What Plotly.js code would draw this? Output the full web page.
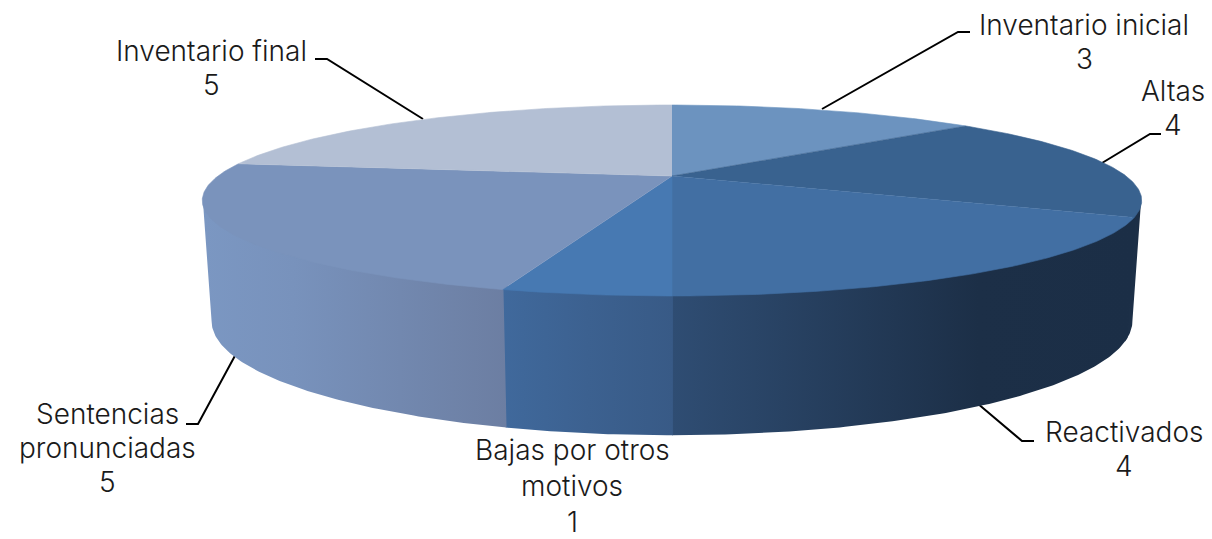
<!DOCTYPE html>
<html>
<head>
<meta charset="utf-8">
<script src="https://cdn.plot.ly/plotly-3.0.1.min.js"></script>
<style>html,body{margin:0;padding:0;background:#fff}#chart{width:1212px;height:539px}</style>
</head>
<body>
<div id="chart"></div>
<script>
const categories = ['Inventario inicial','Altas','Reactivados','Bajas por otros<br>motivos','Sentencias<br>pronunciadas','Inventario final'];
const values = [3,4,4,1,5,5];
const topColors = ['#6C93BF','#39628F','#426FA3','#4779B2','#7A93BC','#B3BFD4'];
const sideLeftColors = ['#6C93BF','#1C2F47','#2F4D73','#40699C','#7B97C2','#B3BFD4'];
const sideMidColors = ['#6C93BF','#1C2F47','#1C2F47','#3C6190','#7892BC','#B3BFD4'];
const sideMidStops = [0.5,0.5,0.66,0.5,0.3,0.5];
const sideRightColors = ['#6C93BF','#1C2E45','#1B2E46','#385A86','#6C7EA2','#B3BFD4'];
const labelX = [1084,1173,1124,572,107,211];
const labelY = [25,91,432,450,414,51];
const lineSteps = [34,34,34,36,34,34];
const leaders = [
  'M822,109 L958,32 L970,32',
  'M1102,163 L1150,134 L1161,134',
  'M977,403 L1022,441 L1034,441',
  null,
  'M237,352 L198,424 L186,424',
  'M423,119 L327,59 L315,59'
];

/* perspective projection of the disc */
const persp = 0.2565, silhouette = Math.acos(-persp);
const topDisc = {cx:672, cy:176, a:454, b:89.2};
const wallTop = {cx:672, cy:176, a:453.5, b:86};
const botDisc = {cx:672, cy:292, a:445, b:106.5};
function proj(d, t){
  const u = Math.sin(t), v = Math.cos(t), k = 1 + persp*v;
  return [d.cx + d.a*u/k, d.cy - d.b*v/k];
}
function arc(d, t0, t1){
  const n = Math.max(2, Math.ceil(Math.abs(t1-t0)/0.01)), pts = [];
  for(let i=0;i<=n;i++) pts.push(proj(d, t0+(t1-t0)*i/n));
  return pts;
}
const total = values.reduce((s,v)=>s+v,0);
const traces = [];
function addPoly(pts, style){
  traces.push(Object.assign({
    type:'scatter', mode:'lines', x:pts.map(p=>p[0]), y:pts.map(p=>p[1]),
    fill:'toself', line:{width:0}, hoverinfo:'skip', showlegend:false
  }, style));
}
const TAU = 2*Math.PI;
let run = 0;
const spans = values.map(v=>{const s=[run/total*TAU,(run+v)/total*TAU];run+=v;return s;});
/* side walls: only the front half of the rim, between the two silhouette angles */
const visibleFrom = silhouette, visibleTo = TAU - silhouette;
spans.forEach((s,i)=>{
  const a = Math.max(s[0],visibleFrom), b = Math.min(s[1],visibleTo);
  if(b<=a) return;
  const overlap = Math.abs(Math.cos(a)) < 0.5 ? 0.03 : 0.0015;
  const a2 = Math.max(a-overlap,visibleFrom);
  const pts = arc(wallTop,a2,b).concat(arc(botDisc,b,a2));
  /* the angle runs right-to-left across the front: low x takes the left colour */
  addPoly(pts,{fillgradient:{type:'horizontal',colorscale:[[0,sideLeftColors[i]],[sideMidStops[i],sideMidColors[i]],[1,sideRightColors[i]]]},fillcolor:sideLeftColors[i]});
});
spans.forEach((s,i)=>{
  const pts = [[topDisc.cx,topDisc.cy]].concat(arc(topDisc,s[0],s[1]));
  addPoly(pts,{fillcolor:topColors[i],line:{width:0.6,color:topColors[i]}});
});

const fontSize = 28;
const annotations = [];
categories.forEach((c,i)=>{
  const lines = c.split('<br>').concat(String(values[i]));
  lines.forEach((t,j)=>{
    annotations.push({
      x:labelX[i], y:labelY[i]+j*lineSteps[i], xref:'x', yref:'y', showarrow:false,
      xanchor:'center', yanchor:'middle', align:'center', text:t,
      font:{family:'Inter, sans-serif', size:fontSize, weight:300, color:'#1a1a1a'}
    });
  });
});
const shapes = leaders.filter(Boolean).map(p=>({
  type:'path', path:p, xref:'x', yref:'y', line:{color:'#000',width:2}, layer:'below'
}));
const axis = {visible:false, fixedrange:true, showgrid:false, zeroline:false};
Plotly.newPlot('chart',traces,{
  width:1212, height:539, margin:{l:0,r:0,t:0,b:0},
  paper_bgcolor:'#fff', plot_bgcolor:'#fff', showlegend:false,
  xaxis:Object.assign({range:[0,1212]},axis),
  yaxis:Object.assign({range:[539,0]},axis),
  annotations, shapes
},{displayModeBar:false,staticPlot:true});
</script>
</body>
</html>
